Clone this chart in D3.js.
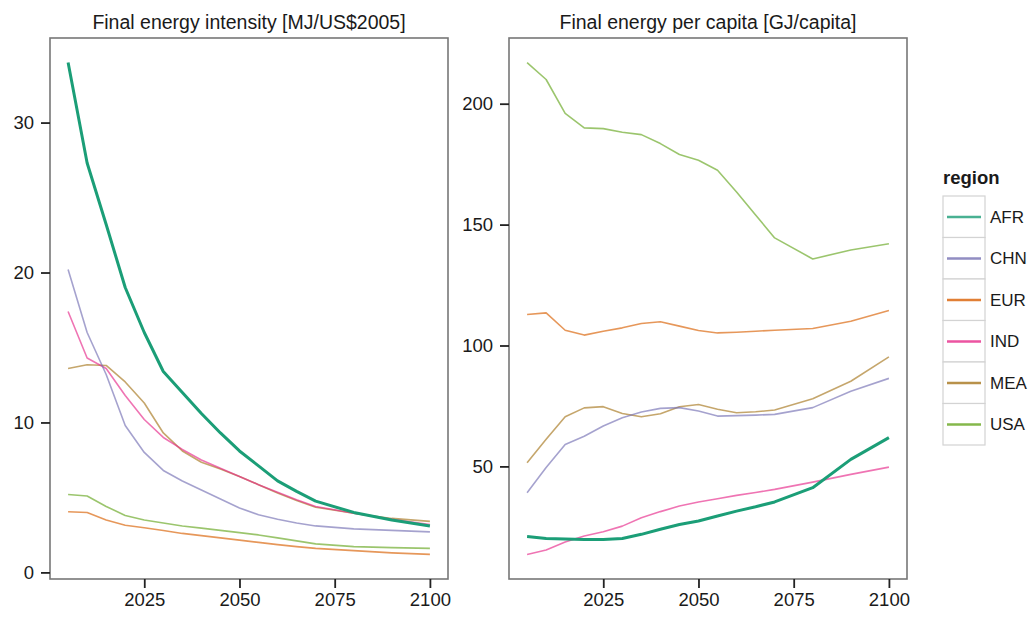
<!DOCTYPE html>
<html>
<head>
<meta charset="utf-8">
<script src="https://cdn.jsdelivr.net/npm/d3@7"></script>
<style>
  body { margin: 0; background: #fff; }
  text { font-family: "Liberation Sans", Arial, sans-serif; }
</style>
</head>
<body>
<div id="chart"></div>
<script>
// years of the scenario
var years = [2005, 2010, 2015, 2020, 2025, 2030, 2035, 2040, 2045, 2050, 2055, 2060, 2065, 2070, 2080, 2090, 2100];
var regions = ["AFR", "CHN", "EUR", "IND", "MEA", "USA"];

// final energy intensity [MJ/US$2005]
var intAFR = [34.0, 27.3, 23.2, 19.0, 16.0, 13.4, 12.0, 10.6, 9.3, 8.1, 7.1, 6.1, 5.4, 4.75, 4.0, 3.5, 3.1];
var intCHN = [20.2, 16.0, 13.2, 9.8, 8.0, 6.8, 6.1, 5.5, 4.9, 4.3, 3.85, 3.55, 3.3, 3.1, 2.9, 2.8, 2.7];
var intEUR = [4.05, 4.0, 3.5, 3.15, 2.98, 2.8, 2.6, 2.45, 2.3, 2.15, 2.0, 1.85, 1.72, 1.6, 1.45, 1.3, 1.2];
var intIND = [17.4, 14.3, 13.6, 11.8, 10.2, 9.0, 8.2, 7.5, 6.95, 6.4, 5.85, 5.35, 4.85, 4.4, 3.95, 3.55, 3.2];
var intMEA = [13.6, 13.85, 13.8, 12.7, 11.3, 9.3, 8.1, 7.35, 6.9, 6.4, 5.85, 5.3, 4.8, 4.35, 3.95, 3.6, 3.4];
var intUSA = [5.2, 5.1, 4.4, 3.8, 3.5, 3.3, 3.1, 2.95, 2.8, 2.65, 2.5, 2.3, 2.1, 1.9, 1.72, 1.65, 1.6];

// final energy per capita [GJ/capita]
var capAFR = [21.0, 20.2, 20.0, 19.8, 19.8, 20.2, 21.9, 24.0, 26.0, 27.4, 29.5, 31.5, 33.3, 35.3, 41.2, 52.9, 61.9];
var capCHN = [39.1, 49.5, 59.1, 62.5, 66.7, 70.1, 72.5, 74.0, 74.3, 72.9, 70.8, 71.0, 71.2, 71.5, 74.3, 81.1, 86.4];
var capEUR = [112.8, 113.5, 106.3, 104.3, 105.9, 107.3, 109.1, 109.8, 108.0, 106.2, 105.2, 105.5, 105.9, 106.3, 107.0, 110.0, 114.5];
var capIND = [13.6, 15.4, 18.7, 21.2, 23.0, 25.3, 28.8, 31.3, 33.6, 35.3, 36.6, 38.0, 39.2, 40.5, 43.5, 46.7, 49.7];
var capMEA = [51.5, 61.2, 70.5, 74.2, 74.7, 71.9, 70.5, 71.8, 74.7, 75.6, 73.6, 72.2, 72.6, 73.3, 78.0, 85.2, 95.3];
var capUSA = [217.0, 210.0, 196.0, 190.0, 189.7, 188.2, 187.2, 183.5, 179.0, 176.6, 172.5, 163.5, 154.0, 144.5, 135.8, 139.5, 142.1];

var xTicks = [2025, 2050, 2075, 2100];
var intTicks = [0, 10, 20, 30];
var capTicks = [50, 100, 150, 200];

var colors = ["#1B9E77", "#7570B3", "#D95F02", "#E7298A", "#A6761D", "#66A61E"];

var panels = [
    { title: "Final energy intensity [MJ/US$2005]", left: 50, series: [intAFR, intCHN, intEUR, intIND, intMEA, intUSA], ticks: intTicks },
    { title: "Final energy per capita [GJ/capita]", left: 509, series: [capAFR, capCHN, capEUR, capIND, capMEA, capUSA], ticks: capTicks }
];

var width = 1032, height = 617;
var pw = 398, panelTop = 38, ph = 541;

var svg = d3.select("#chart")
    .append("svg")
    .attr("width", width)
    .attr("height", height);

panels.forEach(function (p) {
    var g = svg.append("g")
        .attr("transform", "translate(" + p.left + "," + panelTop + ")");

    // ggplot style 5% expansion
    var xPad = (2100 - 2005) * 0.05;
    var xScale = d3.scaleLinear()
        .domain([2005 - xPad, 2100 + xPad])
        .range([0, pw]);

    var all = d3.merge(p.series);
    var mn = d3.min(all), mx = d3.max(all), yPad = (mx - mn) * 0.05;
    var yScale = d3.scaleLinear()
        .domain([mn - yPad, mx + yPad])
        .range([ph, 0]);

    var line = d3.line()
        .x(function (d, i) { return xScale(years[i]); })
        .y(function (d) { return yScale(d); });

    // draw thin lines first, AFR on top
    [5, 4, 3, 2, 1, 0].forEach(function (k) {
        g.append("path")
            .datum(p.series[k])
            .attr("fill", "none")
            .attr("stroke", colors[k])
            .attr("stroke-opacity", k == 0 ? 1 : 0.65)
            .attr("stroke-width", k == 0 ? 3 : 1.6)
            .attr("stroke-linejoin", "round")
            .attr("d", line);
    });

    // panel border
    g.append("rect")
        .attr("x", 0).attr("y", 0)
        .attr("width", pw).attr("height", ph)
        .attr("fill", "none")
        .attr("stroke", "#777")
        .attr("stroke-width", 1.6);

    var yAxis = d3.axisLeft(yScale).tickValues(p.ticks).tickSize(9).tickPadding(7);
    var xAxis = d3.axisBottom(xScale).tickValues(xTicks).tickFormat(d3.format("d")).tickSize(9).tickPadding(5);

    var ya = g.append("g").call(yAxis);
    var xa = g.append("g").attr("transform", "translate(0," + ph + ")").call(xAxis);
    [ya, xa].forEach(function (a) {
        a.select(".domain").remove();
        a.selectAll("line").attr("stroke", "#222").attr("stroke-width", 1.8);
        a.selectAll("text")
            .attr("fill", "#1a1a1a")
            .attr("font-size", "18.5px")
            .style("font-family", "'Liberation Sans', Arial, sans-serif");
    });

    svg.append("text")
        .attr("x", p.left + pw / 2)
        .attr("y", 29)
        .attr("text-anchor", "middle")
        .attr("font-size", "19.5px")
        .attr("fill", "#1a1a1a")
        .text(p.title);
});

// legend
var legend = svg.append("g").attr("transform", "translate(943,0)");
legend.append("text")
    .attr("x", 0).attr("y", 184)
    .attr("font-size", "18.5px")
    .attr("font-weight", "bold")
    .attr("fill", "#1a1a1a")
    .text("region");

regions.forEach(function (r, i) {
    var y0 = 196 + i * 41.5;
    legend.append("rect")
        .attr("x", 0).attr("y", y0)
        .attr("width", 42).attr("height", 41.5)
        .attr("fill", "#fff")
        .attr("stroke", "#d3d3d3")
        .attr("stroke-width", 1.2);
    legend.append("line")
        .attr("x1", 4).attr("x2", 38)
        .attr("y1", y0 + 21).attr("y2", y0 + 21)
        .attr("stroke", colors[i])
        .attr("stroke-opacity", 0.8)
        .attr("stroke-width", 2.5);
    legend.append("text")
        .attr("x", 47).attr("y", y0 + 21)
        .attr("dy", "0.35em")
        .attr("font-size", "17px")
        .attr("fill", "#1a1a1a")
        .text(r);
});
</script>
</body>
</html>
